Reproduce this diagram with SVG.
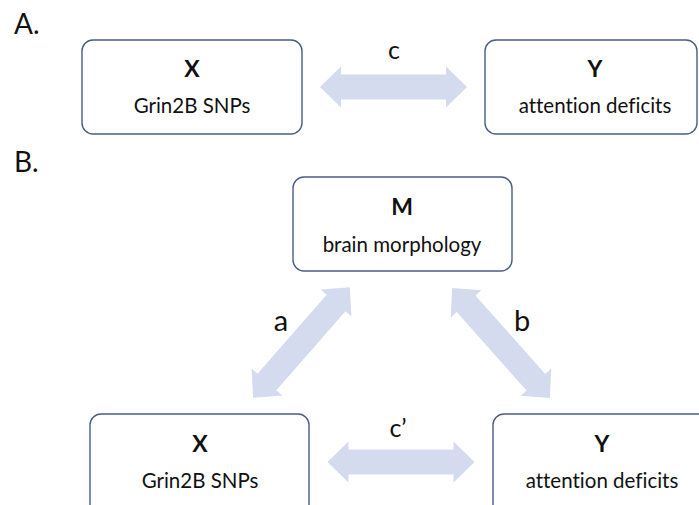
<svg xmlns="http://www.w3.org/2000/svg" width="699" height="505" viewBox="0 0 699 505">
<defs>
<style>
.box{fill:#ffffff;stroke:#4a5d86;stroke-width:1.4}
.arr{fill:#d5dbee}
.t{font-family:Lato,"Open Sans","Liberation Sans",sans-serif;fill:#111;text-anchor:middle;font-variant-ligatures:none}
.h{font-weight:bold;font-size:23px}
.s{font-size:20.5px}
.lab{font-family:Lato,"Open Sans","Liberation Sans",sans-serif;fill:#111;font-variant-ligatures:none}
</style>
<path id="dbl" d="M -73.5 0 L -52.5 -20.5 L -52.5 -12.5 L 52.5 -12.5 L 52.5 -20.5 L 73.5 0 L 52.5 20.5 L 52.5 12.5 L -52.5 12.5 L -52.5 20.5 Z"/>
</defs>
<rect width="699" height="505" fill="#ffffff"/>
<text class="lab" x="14" y="34" font-size="28">A.</text>
<text class="lab" x="14" y="172" font-size="28">B.</text>
<g id="connectors">
<use href="#dbl" class="arr" transform="translate(393.5,87)"/>
<use href="#dbl" class="arr" transform="translate(401,462)"/>
<use href="#dbl" class="arr" transform="translate(301.5,342.5) rotate(-48.85)"/>
<use href="#dbl" class="arr" transform="translate(501,343) rotate(48.3)"/>
<text class="lab" x="394" y="59" font-size="25" text-anchor="middle">c</text>
<text class="lab" x="398" y="437" font-size="25" text-anchor="middle">c’</text>
<text class="lab" x="281" y="331" font-size="29" text-anchor="middle">a</text>
<text class="lab" x="522" y="331" font-size="29" text-anchor="middle">b</text>
</g>
<g id="A-X">
<rect class="box" x="82" y="40" width="220" height="94" rx="11"/>
<text class="t h" x="192" y="77">X</text>
<text class="t s" x="192" y="113">Grin2B SNPs</text>
</g>
<g id="A-Y">
<rect class="box" x="485" y="40" width="212" height="94" rx="11"/>
<text class="t h" x="595" y="77">Y</text>
<text class="t s" x="595" y="113">attention deficits</text>
</g>
<g id="B-M">
<rect class="box" x="293" y="177" width="219" height="94" rx="11"/>
<text class="t h" x="402" y="215">M</text>
<text class="t s" x="402" y="252">brain morphology</text>
</g>
<g id="B-X">
<rect class="box" x="90" y="414" width="219" height="110" rx="11"/>
<text class="t h" x="200" y="452">X</text>
<text class="t s" x="200" y="488">Grin2B SNPs</text>
</g>
<g id="B-Y">
<rect class="box" x="493" y="414" width="230" height="110" rx="11"/>
<text class="t h" x="602" y="452">Y</text>
<text class="t s" x="602" y="488">attention deficits</text>
</g>
</svg>
